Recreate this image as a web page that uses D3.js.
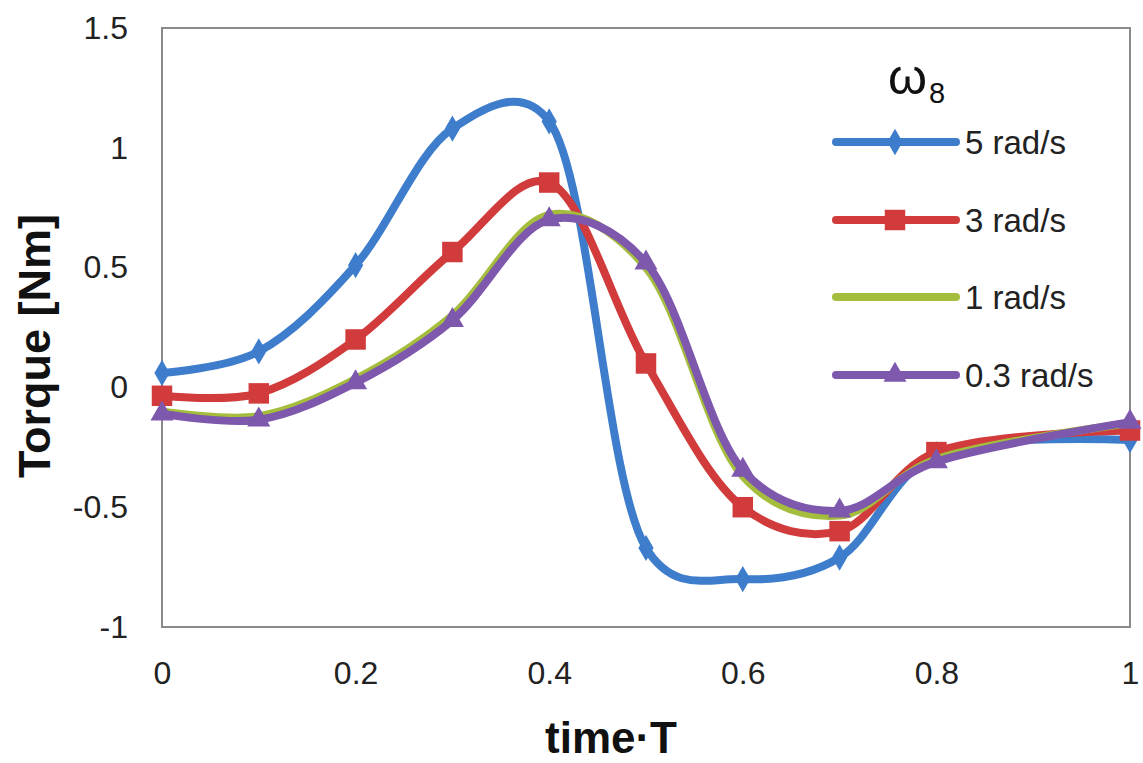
<!DOCTYPE html>
<html>
<head>
<meta charset="utf-8">
<script src="https://cdn.jsdelivr.net/npm/d3@7"></script>
<style>
html,body{margin:0;padding:0;background:#fff;}
svg{display:block;}
text{font-family:"Liberation Sans",Arial,sans-serif;}
</style>
</head>
<body>
<svg id="chart" width="1143" height="763"></svg>
<script>
const times = [0, 0.1, 0.2, 0.3, 0.4, 0.5, 0.6, 0.7, 0.8, 1.0];
const seriesNames = ["5 rad/s", "3 rad/s", "1 rad/s", "0.3 rad/s"];
const torque5 = [0.06, 0.15, 0.51, 1.08, 1.11, -0.67, -0.80, -0.71, -0.28, -0.22];
const torque3 = [-0.035, -0.025, 0.20, 0.565, 0.855, 0.10, -0.50, -0.60, -0.27, -0.18];
const torque1 = [-0.10, -0.12, 0.035, 0.30, 0.72, 0.50, -0.37, -0.535, -0.30, -0.15];
const torque03 = [-0.11, -0.135, 0.02, 0.28, 0.70, 0.52, -0.345, -0.515, -0.31, -0.145];
const xTicks = [0, 0.2, 0.4, 0.6, 0.8, 1];
const xTickLabels = ["0", "0.2", "0.4", "0.6", "0.8", "1"];
const yTicks = [-1, -0.5, 0, 0.5, 1, 1.5];
const yTickLabels = ["-1", "-0.5", "0", "0.5", "1", "1.5"];
const colors = ["#3d7dcc", "#d13b3b", "#a4bd3c", "#7e58ad"];
const markers = ["diamond", "square", "none", "triangle"];

(function () {
const svg = d3.select("#chart");
const pL = 162, pR = 1130, pT = 28, pB = 627;
const x = d3.scaleLinear().domain([0, 1]).range([pL, pR]);
const y = d3.scaleLinear().domain([-1, 1.5]).range([pB, pT]);

svg.append("rect").attr("x", pL).attr("y", pT).attr("width", pR - pL).attr("height", pB - pT)
  .attr("fill", "none").attr("stroke", "#8a8a8a").attr("stroke-width", 2);

const xAxis = d3.axisBottom(x).tickValues(xTicks).tickFormat((d, i) => xTickLabels[i]).tickSize(0).tickPadding(34);
const gx = svg.append("g").attr("transform", `translate(0,${pB})`).call(xAxis);
gx.select(".domain").remove();
gx.selectAll("text").attr("font-size", 32).attr("fill", "#222").attr("font-family", "Liberation Sans, Arial, sans-serif");

const yAxis = d3.axisLeft(y).tickValues(yTicks).tickFormat((d, i) => yTickLabels[i]).tickSize(0).tickPadding(34);
const gy = svg.append("g").attr("transform", `translate(${pL},0)`).call(yAxis);
gy.select(".domain").remove();
gy.selectAll("text").attr("font-size", 32).attr("fill", "#222").attr("font-family", "Liberation Sans, Arial, sans-serif");

svg.append("text").attr("x", 611).attr("y", 753).attr("text-anchor", "middle")
  .attr("font-size", 44).attr("font-weight", "bold").attr("fill", "#111").text("time·T");
svg.append("text").attr("transform", "translate(50,346) rotate(-90)").attr("text-anchor", "middle")
  .attr("font-size", 45).attr("font-weight", "bold").attr("fill", "#111").text("Torque [Nm]");

const allSeries = [torque5, torque3, torque1, torque03];
const line = d3.line().x((d, i) => x(times[i])).y(d => y(d)).curve(d3.curveCatmullRom.alpha(0.25));

const sym = {
  diamond: d3.symbol().type(d3.symbolDiamond).size(200),
  square: d3.symbol().type(d3.symbolSquare).size(420),
  triangle: d3.symbol().type(d3.symbolTriangle).size(230)
};

allSeries.forEach((vals, s) => {
  const g = svg.append("g");
  g.append("path").datum(vals).attr("d", line).attr("fill", "none")
    .attr("stroke", colors[s]).attr("stroke-width", 8).attr("stroke-linejoin", "round").attr("stroke-linecap", "round");
  if (markers[s] !== "none") {
    g.selectAll("path.m").data(vals).enter().append("path").attr("class", "m")
      .attr("d", sym[markers[s]]).attr("fill", colors[s])
      .attr("transform", (d, i) => `translate(${x(times[i])},${y(d)})`);
  }
});

const lg = svg.append("g");
lg.append("text").attr("x", 888).attr("y", 94).attr("font-size", 50).attr("fill", "#111")
  .attr("font-family", "DejaVu Serif, serif").text("ω");
lg.append("text").attr("x", 929).attr("y", 103).attr("font-size", 29).attr("fill", "#111").text("8");
const legendY = [142, 220, 297, 375];
seriesNames.forEach((name, s) => {
  lg.append("line").attr("x1", 836).attr("x2", 956).attr("y1", legendY[s]).attr("y2", legendY[s])
    .attr("stroke", colors[s]).attr("stroke-width", 8).attr("stroke-linecap", "round");
  if (markers[s] !== "none") {
    lg.append("path").attr("d", sym[markers[s]]).attr("fill", colors[s])
      .attr("transform", `translate(895,${legendY[s]})`);
  }
  lg.append("text").attr("x", 965).attr("y", legendY[s] + 12).attr("font-size", 33).attr("fill", "#222").text(name);
});
})();
</script>
</body>
</html>
